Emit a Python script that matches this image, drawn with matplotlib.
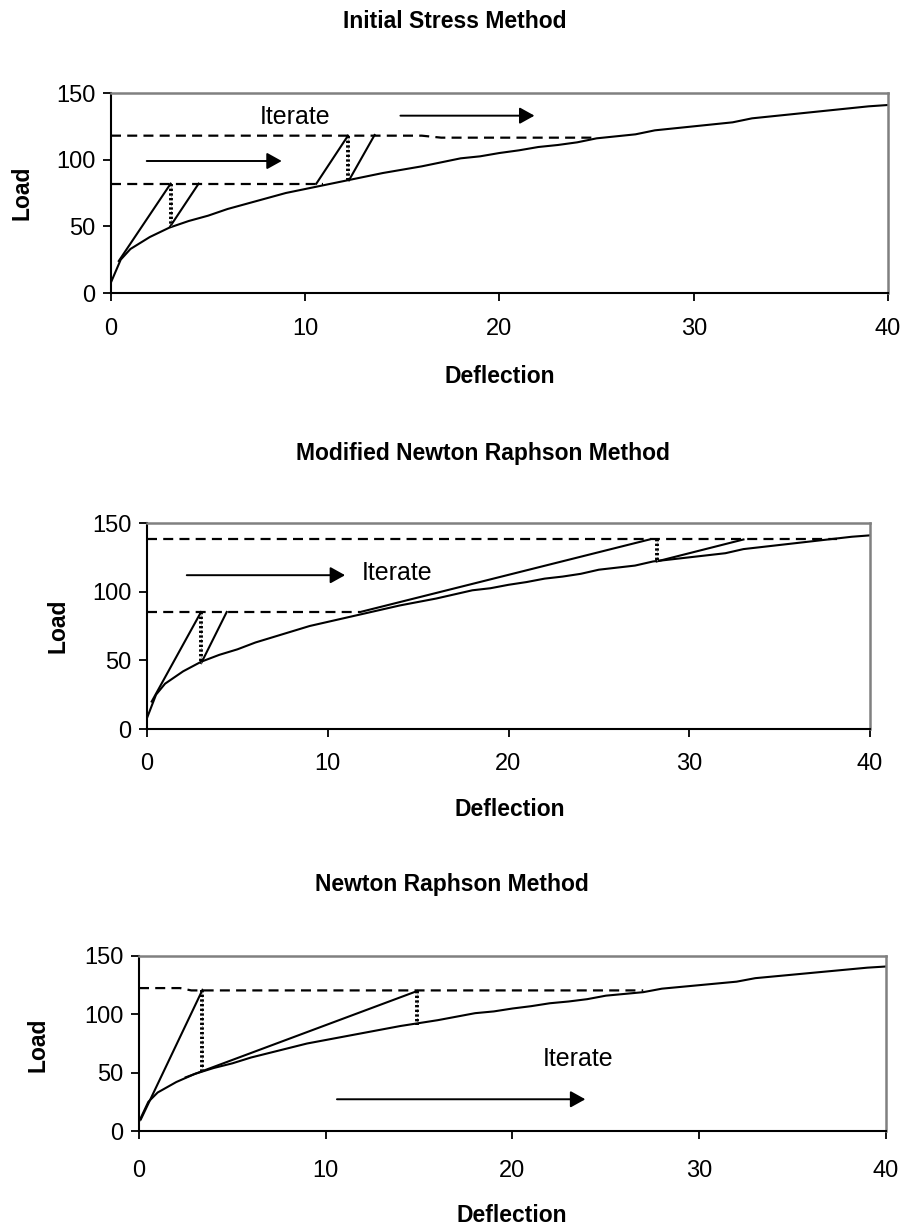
import matplotlib
matplotlib.use('Agg')
import matplotlib.pyplot as plt

plt.rcParams['font.family'] = ['Liberation Sans', 'DejaVu Sans']

# ---------------- data ----------------
deflection = [0, 0.5, 1, 2, 3, 4, 5, 6, 7, 8, 9, 10, 11, 12, 13, 14, 15, 16, 17,
              18, 19, 20, 21, 22, 23, 24, 25, 26, 27, 28, 29, 30, 31, 32, 33, 34,
              35, 36, 37, 38, 39, 40]
load = [8, 25, 33, 42, 49, 54, 58, 63, 67, 71, 75, 78, 81, 84, 87, 90, 92.5, 95,
        98, 101, 102.5, 105, 107, 109.5, 111, 113, 116, 117.5, 119, 122, 123.5,
        125, 126.5, 128, 131, 132.5, 134, 135.5, 137, 138.5, 140, 141]

x_ticks = [0, 10, 20, 30, 40]
y_ticks = [0, 50, 100, 150]

titles = ['Initial Stress Method', 'Modified Newton Raphson Method', 'Newton Raphson Method']
x_label = 'Deflection'
y_label = 'Load'
note = 'Iterate'

# Initial stress method
is_dashed = [([0, 10.9], [82, 82]), ([0, 16, 17, 25], [118, 118, 116.5, 116.5])]
is_solid = [([0.4, 3.07], [24, 82]), ([3.05, 4.51], [50, 82]),
            ([10.57, 12.2], [82, 118]), ([12.25, 13.57], [84.5, 118.5])]
is_dotted = [([3.07, 3.07], [82, 50]), ([12.2, 12.2], [118, 84.5])]
is_arrows = [((14.9, 133), (21.8, 133)), ((1.84, 99), (8.79, 99))]
is_note = (7.67, 132)

# Modified Newton Raphson
mnr_dashed = [([0, 11.8], [85.2, 85.2]), ([0, 38.2], [138, 138])]
mnr_solid = [([0.26, 2.99], [20, 85.2]), ([3.0, 4.41], [48, 85.2]),
             ([11.8, 27.8], [85.2, 138]), ([28.2, 33.0], [122, 138])]
mnr_dotted = [([3.0, 3.0], [85.2, 48]), ([28.2, 28.2], [138, 122])]
mnr_arrows = [((2.2, 112), (10.96, 112))]
mnr_note = (11.9, 113.6)

# Newton Raphson
nr_dashed = [([0, 2.2, 2.8, 27], [122.5, 122.5, 120.5, 120.5])]
nr_solid = [([0.1, 3.4], [10, 121]), ([2.5, 14.9], [46, 120])]
nr_dotted = [([3.4, 3.4], [121, 51]), ([14.9, 14.9], [120, 91])]
nr_arrows = [((10.6, 27.2), (23.9, 27.2))]
nr_note = (21.6, 61.7)

panels = [
    (is_dashed, is_solid, is_dotted, is_arrows, is_note),
    (mnr_dashed, mnr_solid, mnr_dotted, mnr_arrows, mnr_note),
    (nr_dashed, nr_solid, nr_dotted, nr_arrows, nr_note),
]

# ---------------- layout (pixels) ----------------
W, H = 904, 1229
fig = plt.figure(figsize=(W / 100, H / 100), dpi=100)

axes_px = [(111, 888, 93, 293), (147, 870, 523, 729), (139, 886, 956, 1131)]
title_px = [(455, 22), (483, 453), (452, 885)]
xlabel_px = [(500, 377), (510, 810), (512, 1216)]
ylabel_px = [(22, 193), (58, 626), (38, 1045)]
xpad = [12, 11.5, 15]

for i, (dashed, solid, dotted, arrows, note_pos) in enumerate(panels):
    l, r, t, b = axes_px[i]
    ax = fig.add_axes([l / W, 1 - b / H, (r - l) / W, (b - t) / H])
    ax.plot(deflection, load, color='black', lw=1.5, solid_capstyle='round')
    for xs, ys in dashed:
        ax.plot(xs, ys, color='black', lw=1.6, dashes=(4.5, 2.8))
    for xs, ys in solid:
        ax.plot(xs, ys, color='black', lw=1.5)
    for xs, ys in dotted:
        ax.plot(xs, ys, color='#999999', lw=0.8, linestyle=':')
        ax.plot(xs, ys, color='black', lw=2.8, linestyle=(0, (0.6, 0.6)))
    for (x0, y0), (x1, y1) in arrows:
        ax.annotate('', xy=(x1, y1), xytext=(x0, y0),
                    arrowprops=dict(arrowstyle='-|>,head_length=0.9,head_width=0.5',
                                    color='black', lw=1.4, shrinkA=0, shrinkB=0))
    ax.text(note_pos[0], note_pos[1], note, fontsize=18, ha='left', va='center')

    ax.set_xlim(0, 40)
    ax.set_ylim(0, 150)
    ax.set_xticks(x_ticks)
    ax.set_yticks(y_ticks)
    ax.tick_params(axis='both', direction='out', length=6, width=1.3, labelsize=17,
                   color='black')
    ax.tick_params(axis='x', pad=xpad[i])
    ax.tick_params(axis='y', pad=5)
    for s in ['left', 'bottom']:
        ax.spines[s].set_color('black')
        ax.spines[s].set_linewidth(1.5)
    for s in ['top', 'right']:
        ax.spines[s].set_color('#808080')
        ax.spines[s].set_linewidth(1.8)

    fig.text(title_px[i][0] / W, 1 - title_px[i][1] / H, titles[i],
             fontsize=16.5, fontweight='bold', ha='center', va='center')
    fig.text(xlabel_px[i][0] / W, 1 - xlabel_px[i][1] / H, x_label,
             fontsize=16.5, fontweight='bold', ha='center', va='center')
    fig.text(ylabel_px[i][0] / W, 1 - ylabel_px[i][1] / H, y_label,
             fontsize=16.5, fontweight='bold', ha='center', va='center', rotation=90)

fig.savefig('out.png', dpi=100)
